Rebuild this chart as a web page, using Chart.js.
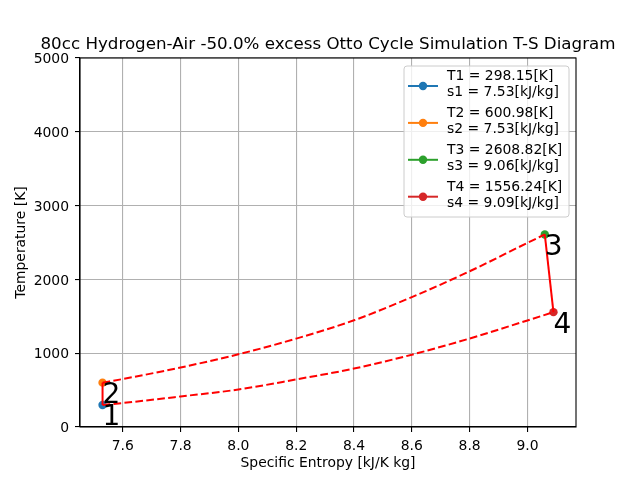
<!DOCTYPE html>
<html>
<head>
<meta charset="utf-8">
<title>Otto Cycle T-S Diagram</title>
<script src="https://cdn.jsdelivr.net/npm/chart.js@4.4.1/dist/chart.umd.min.js"></script>
<style>
    html, body { margin: 0; padding: 0; background: #ffffff; }
    #wrap { width: 640px; height: 480px; }
</style>
</head>
<body>
<div id="wrap"><canvas id="tsChart" width="640" height="480"></canvas></div>
<script>
// ------------------------------
// Chart data
// ------------------------------
const titleText = '80cc Hydrogen-Air -50.0% excess Otto Cycle Simulation T-S Diagram';
const xTitle = 'Specific Entropy [kJ/K kg]';
const yTitle = 'Temperature [K]';

// state points 1..4
const stateNames = ['1', '2', '3', '4'];
const stateS = [7.53, 7.53, 9.06, 9.09];
const stateT = [298.15, 600.98, 2608.82, 1556.24];
const stateColors = ['#1f77b4', '#ff7f0e', '#2ca02c', '#d62728'];
const legendLines = [
    ['T1 = 298.15[K]', 's1 = 7.53[kJ/kg]'],
    ['T2 = 600.98[K]', 's2 = 7.53[kJ/kg]'],
    ['T3 = 2608.82[K]', 's3 = 9.06[kJ/kg]'],
    ['T4 = 1556.24[K]', 's4 = 9.09[kJ/kg]']
];

// constant volume heat addition 2 -> 3 (dashed)
const upperS = [7.53, 7.6, 7.8, 8.0, 8.2, 8.4, 8.6, 8.8, 9.0, 9.06];
const upperT = [600.98, 650, 806, 985, 1198, 1446, 1760, 2110, 2495, 2608.82];

// constant volume heat rejection 4 -> 1 (dashed)
const lowerS = [7.53, 7.6, 7.8, 8.0, 8.2, 8.4, 8.6, 8.8, 9.0, 9.09];
const lowerT = [298.15, 325, 414, 508, 645, 792, 980, 1199, 1444, 1556.24];

// axis ticks
const xTicks = [7.6, 7.8, 8.0, 8.2, 8.4, 8.6, 8.8, 9.0];
const yTicks = [0, 1000, 2000, 3000, 4000, 5000];
const xMin = 7.452, xMax = 9.168;
const yMin = 0, yMax = 5000;

const FONT = 'DejaVu Sans';

function toPoints(xs, ys) {
    return xs.map((x, i) => ({ x: x, y: ys[i] }));
}

// ------------------------------
// Datasets: lines first so they sit on top of the markers
// ------------------------------
const datasets = [
    { // 1 -> 2 compression
        data: toPoints([stateS[0], stateS[1]], [stateT[0], stateT[1]]),
        showLine: true, borderColor: 'red', borderWidth: 2, pointRadius: 0
    },
    { // 3 -> 4 expansion
        data: toPoints([stateS[2], stateS[3]], [stateT[2], stateT[3]]),
        showLine: true, borderColor: 'red', borderWidth: 2, pointRadius: 0
    },
    {
        data: toPoints(upperS, upperT),
        showLine: true, borderColor: 'red', borderWidth: 2, borderDash: [7.7, 3.3],
        pointRadius: 0, cubicInterpolationMode: 'monotone'
    },
    {
        data: toPoints(lowerS, lowerT),
        showLine: true, borderColor: 'red', borderWidth: 2, borderDash: [7.7, 3.3],
        pointRadius: 0, cubicInterpolationMode: 'monotone'
    }
];
stateS.forEach((s, i) => {
    datasets.push({
        data: [{ x: s, y: stateT[i] }],
        showLine: false,
        pointRadius: 4.2,
        pointBackgroundColor: stateColors[i],
        pointBorderColor: stateColors[i],
        pointBorderWidth: 0
    });
});

// ------------------------------
// Plugin: frame, title, state labels and legend
// ------------------------------
const decorPlugin = {
    id: 'decor',
    afterDatasetsDraw(chart) {
        const { ctx, chartArea, scales } = chart;
        ctx.save();

        // full axes frame
        ctx.strokeStyle = '#000000';
        ctx.lineWidth = 1.1;
        ctx.strokeRect(chartArea.left, chartArea.top,
            chartArea.right - chartArea.left, chartArea.bottom - chartArea.top);

        // title
        ctx.fillStyle = '#000000';
        ctx.font = '16.7px "' + FONT + '"';
        ctx.textAlign = 'center';
        ctx.textBaseline = 'alphabetic';
        ctx.fillText(titleText, (chartArea.left + chartArea.right) / 2, chartArea.top - 9);

        // big state numbers next to the points
        ctx.font = '28px "' + FONT + '"';
        ctx.textAlign = 'left';
        stateNames.forEach((name, i) => {
            const px = scales.x.getPixelForValue(stateS[i]);
            const py = scales.y.getPixelForValue(stateT[i]);
            ctx.fillText(name, px, py + 20.5);
        });

        // legend box
        const bx = chartArea.right - 172, by = chartArea.top + 8;
        const bw = 165, bh = 151;
        ctx.beginPath();
        ctx.roundRect(bx, by, bw, bh, 3);
        ctx.fillStyle = 'rgba(255,255,255,0.8)';
        ctx.fill();
        ctx.strokeStyle = '#cccccc';
        ctx.lineWidth = 1;
        ctx.stroke();

        ctx.font = '13.9px "' + FONT + '"';
        ctx.textBaseline = 'middle';
        legendLines.forEach((lines, i) => {
            const cy = by + 20 + i * 36.9;
            ctx.strokeStyle = stateColors[i];
            ctx.lineWidth = 2;
            ctx.beginPath();
            ctx.moveTo(bx + 4, cy);
            ctx.lineTo(bx + 34, cy);
            ctx.stroke();
            ctx.fillStyle = stateColors[i];
            ctx.beginPath();
            ctx.arc(bx + 19, cy, 4.2, 0, Math.PI * 2);
            ctx.fill();
            ctx.fillStyle = '#000000';
            ctx.fillText(lines[0], bx + 43, cy - 9.3);
            ctx.fillText(lines[1], bx + 43, cy + 6.3);
        });

        ctx.restore();
    }
};

// ------------------------------
// Build the chart
// ------------------------------
const c = document.getElementById('tsChart').getContext('2d');
new Chart(c, {
    type: 'scatter',
    data: { datasets: datasets },
    options: {
        responsive: false,
        animation: false,
        devicePixelRatio: 1,
        layout: { padding: { top: 58, right: 64, left: 0, bottom: 0 } },
        plugins: {
            legend: { display: false },
            tooltip: { enabled: false },
            title: { display: false }
        },
        scales: {
            x: {
                type: 'linear',
                min: xMin,
                max: xMax,
                afterBuildTicks: (scale) => { scale.ticks = xTicks.map(v => ({ value: v })); },
                afterFit: (scale) => { scale.height = 53; },
                grid: { color: '#b0b0b0', lineWidth: 1.1, tickColor: '#000000', tickLength: 5 },
                border: { display: true, color: '#000000', width: 1.1 },
                ticks: {
                    color: '#000000',
                    padding: 6,
                    maxRotation: 0,
                    font: { family: FONT, size: 13.9 },
                    callback: (v) => Number(v).toFixed(1)
                },
                title: {
                    display: true,
                    text: xTitle,
                    color: '#000000',
                    font: { family: FONT, size: 13.9 },
                    padding: { top: 0, bottom: 8 }
                }
            },
            y: {
                type: 'linear',
                min: yMin,
                max: yMax,
                afterBuildTicks: (scale) => { scale.ticks = yTicks.map(v => ({ value: v })); },
                afterFit: (scale) => { scale.width = 80; },
                grid: { color: '#b0b0b0', lineWidth: 1.1, tickColor: '#000000', tickLength: 5 },
                border: { display: true, color: '#000000', width: 1.1 },
                ticks: {
                    color: '#000000',
                    padding: 6,
                    labelOffset: 1.5,
                    font: { family: FONT, size: 13.9 },
                    callback: (v) => String(v)
                },
                title: {
                    display: true,
                    text: yTitle,
                    color: '#000000',
                    font: { family: FONT, size: 13.9 },
                    padding: { top: 13, bottom: 0 }
                }
            }
        }
    },
    plugins: [decorPlugin]
});
</script>
</body>
</html>
